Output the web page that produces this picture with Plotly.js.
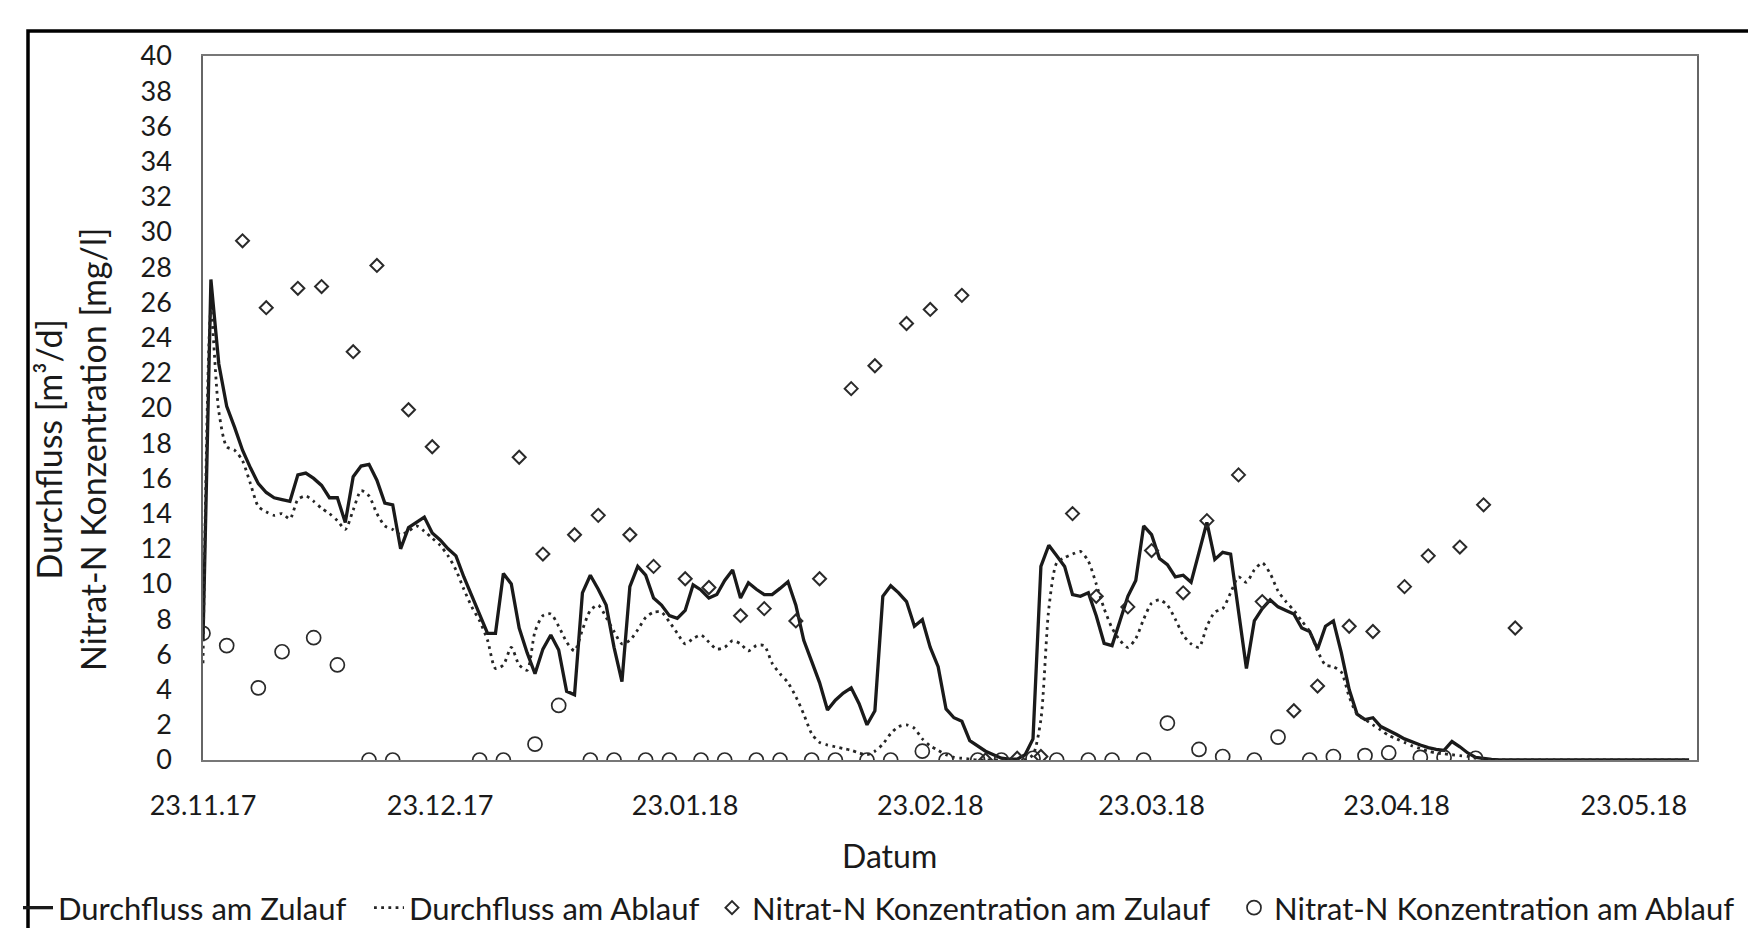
<!DOCTYPE html>
<html>
<head>
<meta charset="utf-8">
<script src="https://cdn.plot.ly/plotly-3.0.1.min.js"></script>
<style>
  html, body { margin: 0; padding: 0; background: #ffffff; }
  #chart { width: 1748px; height: 928px; }
</style>
</head>
<body>
<div id="chart"></div>
<script>
// ---------- DATA ----------
// daily flow series start on this date (one value per day)
const flowStartDate = '2017-11-23';

// Durchfluss am Zulauf [m3/d], daily
const durchflussZulauf = [
  6.8, 27.3, 22.5, 20.1, 18.9, 17.6, 16.6, 15.7, 15.2, 14.9,
  14.8, 14.7, 16.2, 16.3, 16.0, 15.6, 14.9, 14.9, 13.5, 16.1,
  16.7, 16.8, 15.9, 14.6, 14.5, 12.0, 13.2, 13.5, 13.8, 12.9,
  12.5, 12.0, 11.6, 10.4, 9.3, 8.2, 7.2, 7.2, 10.6, 10.0,
  7.5, 6.1, 4.9, 6.3, 7.1, 6.25, 3.9, 3.7, 9.5, 10.5,
  9.7, 8.8, 6.4, 4.45, 9.85, 11.0, 10.5, 9.2, 8.8, 8.2,
  8.05, 8.5, 9.95, 9.66, 9.2, 9.4, 10.2, 10.8, 9.2, 10.07,
  9.7, 9.4, 9.4, 9.75, 10.13, 8.8, 6.8, 5.6, 4.4, 2.84,
  3.4, 3.8, 4.1, 3.2, 2.0, 2.8, 9.3, 9.9, 9.5, 9.0,
  7.6, 7.97, 6.4, 5.3, 2.9, 2.4, 2.2, 1.1, 0.8, 0.5,
  0.3, 0.1, 0.05, 0.05, 0.3, 1.2, 11.0, 12.2, 11.6, 11.0,
  9.4, 9.3, 9.5, 8.2, 6.63, 6.5, 7.9, 9.3, 10.2, 13.3,
  12.8, 11.45, 11.1, 10.4, 10.5, 10.1, 11.8, 13.5, 11.4, 11.8,
  11.7, 8.5, 5.2, 7.9, 8.6, 9.1, 8.7, 8.5, 8.3, 7.5,
  7.3, 6.3, 7.6, 7.9, 6.1, 4.0, 2.6, 2.3, 2.4, 1.9,
  1.7, 1.45, 1.2, 1.0, 0.85, 0.7, 0.6, 0.55, 1.05, 0.75,
  0.4, 0.15, 0.08, 0.03, 0, 0, 0, 0, 0, 0,
  0, 0, 0, 0, 0, 0, 0, 0, 0, 0,
  0, 0, 0, 0, 0, 0, 0, 0, 0
];

// Durchfluss am Ablauf [m3/d], daily
const durchflussAblauf = [
  5.5, 25.5, 19.8, 17.8, 17.6, 17.0, 15.7, 14.4, 14.1, 13.9,
  14.0, 13.7, 14.8, 15.0, 14.7, 14.3, 14.0, 13.6, 13.1, 14.2,
  15.3, 15.0, 14.0, 13.3, 13.1, 12.8, 13.0, 13.3, 13.0, 12.6,
  12.2, 11.6, 10.8, 9.7, 8.7, 7.9, 6.8, 5.2, 5.4, 6.4,
  5.4, 5.1, 7.3, 8.2, 8.3, 7.6, 6.7, 6.2, 7.4, 8.5,
  8.8, 8.1, 7.3, 6.6, 6.8, 7.4, 8.1, 8.4, 8.4, 7.85,
  7.2, 6.6, 6.9, 7.1, 6.7, 6.3, 6.4, 6.78, 6.6, 6.2,
  6.5, 6.5, 5.5, 4.9, 4.4, 3.6, 2.6, 1.5, 1.0, 0.85,
  0.75, 0.65, 0.55, 0.4, 0.3, 0.5, 0.9, 1.5, 1.9, 2.0,
  1.8, 1.2, 0.8, 0.55, 0.3, 0.15, 0.1, 0.05, 0, 0,
  0, 0, 0, 0, 0, 0.3, 2.3, 8.6, 11.2, 11.5,
  11.7, 11.85, 11.3, 10.0, 8.6, 7.5, 6.8, 6.4, 6.9, 8.0,
  8.9, 9.1, 8.8, 8.0, 7.1, 6.6, 6.4, 7.6, 8.4, 8.6,
  9.5, 10.4, 10.1, 10.8, 11.2, 10.6, 9.6, 9.0, 8.5, 7.9,
  7.3, 6.2, 5.4, 5.3, 5.0, 3.6, 2.6, 2.3, 2.0, 1.7,
  1.4, 1.2, 1.0, 0.8, 0.65, 0.5, 0.4, 0.35, 0.3, 0.25,
  0.2, 0.1, 0.05, 0, 0, 0, 0, 0, 0, 0,
  0, 0, 0, 0, 0, 0, 0, 0, 0, 0,
  0, 0, 0, 0, 0, 0, 0, 0, 0
];

// Nitrat-N Konzentration am Zulauf [mg/l]
const nitratZulaufDates = [
  '2017-11-28', '2017-12-01', '2017-12-05', '2017-12-08', '2017-12-12', '2017-12-15',
  '2017-12-19', '2017-12-22', '2018-01-02', '2018-01-05', '2018-01-09', '2018-01-12',
  '2018-01-16', '2018-01-19', '2018-01-23', '2018-01-26', '2018-01-30', '2018-02-02',
  '2018-02-06', '2018-02-09', '2018-02-13', '2018-02-16', '2018-02-20', '2018-02-23',
  '2018-02-27', '2018-03-02', '2018-03-06', '2018-03-09', '2018-03-13', '2018-03-16',
  '2018-03-20', '2018-03-23', '2018-03-27', '2018-03-30', '2018-04-03', '2018-04-06',
  '2018-04-10', '2018-04-13', '2018-04-17', '2018-04-20', '2018-04-24', '2018-04-27',
  '2018-05-01', '2018-05-04', '2018-05-08'
];
const nitratZulauf = [
  29.5, 25.7, 26.8, 26.9, 23.2, 28.1,
  19.9, 17.8, 17.2, 11.7, 12.8, 13.9,
  12.8, 11.0, 10.3, 9.8, 8.2, 8.6,
  7.9, 10.3, 21.1, 22.4, 24.8, 25.6,
  26.4, 0.0, 0.1, 0.2, 14.0, 9.3,
  8.7, 11.9, 9.5, 13.6, 16.2, 9.0,
  2.8, 4.2, 7.6, 7.3, 9.85, 11.6,
  12.1, 14.5, 7.5
];

// Nitrat-N Konzentration am Ablauf [mg/l]
const nitratAblaufDates = [
  '2017-11-23', '2017-11-26', '2017-11-30', '2017-12-03', '2017-12-07', '2017-12-10',
  '2017-12-14', '2017-12-17', '2017-12-28', '2017-12-31', '2018-01-04', '2018-01-07',
  '2018-01-11', '2018-01-14', '2018-01-18', '2018-01-21', '2018-01-25', '2018-01-28',
  '2018-02-01', '2018-02-04', '2018-02-08', '2018-02-11', '2018-02-15', '2018-02-18',
  '2018-02-22', '2018-02-25', '2018-03-01', '2018-03-04', '2018-03-08', '2018-03-11',
  '2018-03-15', '2018-03-18', '2018-03-22', '2018-03-25', '2018-03-29', '2018-04-01',
  '2018-04-05', '2018-04-08', '2018-04-12', '2018-04-15', '2018-04-19', '2018-04-22',
  '2018-04-26', '2018-04-29', '2018-05-03'
];
const nitratAblauf = [
  7.2, 6.5, 4.1, 6.15, 6.95, 5.4,
  0, 0, 0, 0, 0.9, 3.1,
  0, 0, 0, 0, 0, 0,
  0, 0, 0, 0, 0, 0,
  0.5, 0, 0, 0, 0.1, 0,
  0, 0, 0, 2.1, 0.6, 0.2,
  0, 1.3, 0, 0.2, 0.25, 0.4,
  0.15, 0.15, 0.1
];

// axis ticks
const xTickDates = ['2017-11-23', '2017-12-23', '2018-01-23', '2018-02-23', '2018-03-23', '2018-04-23', '2018-05-23'];
const xTickLabels = ['23.11.17', '23.12.17', '23.01.18', '23.02.18', '23.03.18', '23.04.18', '23.05.18'];

const seriesNames = [
  'Durchfluss am Zulauf',
  'Durchfluss am Ablauf',
  'Nitrat-N Konzentration am Zulauf',
  'Nitrat-N Konzentration am Ablauf'
];
const yTitleText = 'Durchfluss [m³/d]<br>Nitrat-N Konzentration [mg/l]';
const xTitleText = 'Datum';

// ---------- BUILD ----------
function dailyDates(start, n) {
  const p = start.split('-').map(Number);
  const out = [];
  for (let i = 0; i < n; i++) {
    out.push(new Date(Date.UTC(p[0], p[1] - 1, p[2] + i)).toISOString().slice(0, 10));
  }
  return out;
}

const W = 1748, H = 928;
const M = { l: 203, r: 51, t: 56, b: 168 };
const PW = W - M.l - M.r, PH = H - M.t - M.b;
const px = v => (v - M.l) / PW;          // pixel x -> paper x
const py = v => (H - M.b - v) / PH;      // pixel y -> paper y

const FONT = 'Lato, "Open Sans", sans-serif';
const INK = '#1a1a1a';

const traces = [
  {
    type: 'scatter', mode: 'lines', name: seriesNames[0],
    x: dailyDates(flowStartDate, durchflussZulauf.length), y: durchflussZulauf,
    line: { color: INK, width: 3.3 }, legend: 'legend'
  },
  {
    type: 'scatter', mode: 'lines', name: seriesNames[1],
    x: dailyDates(flowStartDate, durchflussAblauf.length), y: durchflussAblauf,
    line: { color: '#262626', width: 2.8, dash: '2.8px,4.4px', shape: 'spline', smoothing: 0.7 },
    legend: 'legend2'
  },
  {
    type: 'scatter', mode: 'markers', name: seriesNames[2],
    x: nitratZulaufDates, y: nitratZulauf,
    marker: { symbol: 'diamond-open', size: 10, color: '#2a2a2a', line: { width: 2 } },
    legend: 'legend3'
  },
  {
    type: 'scatter', mode: 'markers', name: seriesNames[3],
    x: nitratAblaufDates, y: nitratAblauf,
    marker: { symbol: 'circle-open', size: 14, color: '#2a2a2a', line: { width: 1.7 } },
    legend: 'legend4'
  }
];

function legendAt(xPix) {
  return {
    x: px(xPix), y: py(908), xanchor: 'left', yanchor: 'middle',
    orientation: 'h', bgcolor: 'rgba(0,0,0,0)', borderwidth: 0,
    font: { family: FONT, size: 31, color: INK }, itemwidth: 30
  };
}

const layout = {
  width: W, height: H,
  margin: { l: M.l, r: M.r, t: M.t, b: M.b, autoexpand: false },
  paper_bgcolor: '#ffffff', plot_bgcolor: '#ffffff',
  font: { family: FONT, color: INK },
  showlegend: true,
  legend: legendAt(18),
  legend2: legendAt(369),
  legend3: legendAt(712),
  legend4: legendAt(1234),
  xaxis: {
    type: 'date',
    range: ['2017-11-23', '2018-05-31'],
    tickmode: 'array', tickvals: xTickDates, ticktext: xTickLabels,
    ticks: 'outside', ticklen: 20, tickcolor: 'rgba(0,0,0,0)',
    tickfont: { family: FONT, size: 27, color: INK },
    showgrid: false, zeroline: false,
    showline: true, mirror: true, linecolor: '#777777', linewidth: 2.4
  },
  yaxis: {
    range: [0, 40], tick0: 0, dtick: 2,
    ticks: 'outside', ticklen: 24, tickcolor: 'rgba(0,0,0,0)',
    tickfont: { family: FONT, size: 27, color: INK },
    showgrid: false, zeroline: false,
    showline: true, mirror: true, linecolor: '#666666', linewidth: 1.8
  },
  annotations: [
    {
      text: yTitleText, textangle: -90, showarrow: false,
      xref: 'paper', yref: 'paper', x: px(71), y: py(450),
      xanchor: 'center', yanchor: 'middle', align: 'center',
      font: { family: FONT, size: 34, color: INK }
    },
    {
      text: xTitleText, showarrow: false,
      xref: 'paper', yref: 'paper', x: px(889), y: py(855),
      xanchor: 'center', yanchor: 'middle',
      font: { family: FONT, size: 32, color: INK }
    }
  ],
  shapes: [
    {
      type: 'rect', xref: 'paper', yref: 'paper',
      x0: px(28), x1: px(1765), y0: py(945), y1: py(31),
      line: { color: '#000000', width: 3.5 }, fillcolor: 'rgba(0,0,0,0)', layer: 'below'
    }
  ]
};

Plotly.newPlot('chart', traces, layout, { displayModeBar: false, staticPlot: true });
</script>
</body>
</html>
